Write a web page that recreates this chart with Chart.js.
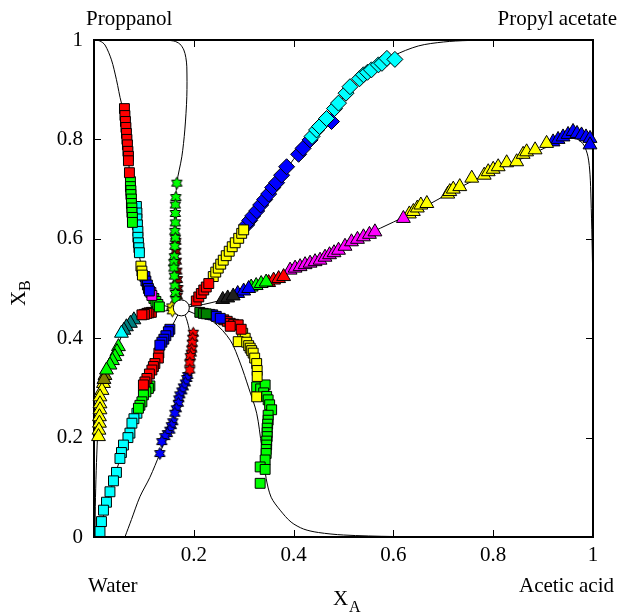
<!DOCTYPE html>
<html>
<head>
<meta charset="utf-8">
<script src="https://cdn.jsdelivr.net/npm/chart.js@4.4.1/dist/chart.umd.min.js"></script>
<style>
html,body{margin:0;padding:0;background:#fff;}
#wrap{width:617px;height:613px;position:relative;}
</style>
</head>
<body>
<div id="wrap"><canvas id="c" width="617" height="613"></canvas></div>
<script>
// ---------- tick labels ----------
const xTickLabels = ['', '0.2', '0.4', '0.6', '0.8', '1'];
const yTickLabels = ['0', '0.2', '0.4', '0.6', '0.8', '1'];
const tickValues = [0, 0.2, 0.4, 0.6, 0.8, 1];
const cornerLabels = ['Proppanol', 'Propyl acetate', 'Water', 'Acetic acid'];

// ---------- curves (x, y) ----------
const curveTopLeftStars = [[0.003,1.0],[0.05,1.0],[0.10,1.0],[0.139,1.0],[0.160,0.998],[0.172,0.992],[0.180,0.980],[0.184,0.965],[0.186,0.946],[0.186,0.886],[0.182,0.819],[0.176,0.765],[0.166,0.712],[0.163,0.65],[0.162,0.56],[0.165,0.50],[0.175,0.461]];
const curveTopLeftSquares = [[0.003,1.0],[0.012,0.998],[0.022,0.990],[0.035,0.960],[0.045,0.920],[0.055,0.873],[0.061,0.862],[0.066,0.80],[0.071,0.735],[0.075,0.68],[0.082,0.62],[0.090,0.57],[0.100,0.525],[0.112,0.495],[0.128,0.472],[0.150,0.463],[0.175,0.461]];
const curveTopRight = [[0.175,0.461],[0.205,0.475],[0.240,0.525],[0.300,0.618],[0.350,0.690],[0.400,0.760],[0.450,0.823],[0.500,0.885],[0.550,0.935],[0.600,0.968],[0.650,0.988],[0.700,0.996],[0.750,0.999],[0.850,1.0],[1.0,1.0]];
const curveRight = [[0.175,0.461],[0.220,0.468],[0.280,0.484],[0.350,0.514],[0.450,0.562],[0.550,0.610],[0.650,0.658],[0.750,0.712],[0.850,0.758],[0.920,0.790],[0.955,0.803],[0.970,0.800],[0.982,0.788],[0.990,0.765],[0.994,0.730],[0.996,0.680],[0.998,0.600],[1.0,0.5]];
const curveBottomRight = [[0.175,0.461],[0.200,0.450],[0.239,0.433],[0.273,0.396],[0.293,0.350],[0.310,0.300],[0.326,0.249],[0.336,0.182],[0.345,0.118],[0.355,0.080],[0.373,0.054],[0.395,0.030],[0.420,0.016],[0.450,0.009],[0.500,0.004],[0.600,0.001],[0.800,0.0],[1.0,0.0]];
const curveDownStars = [[0.175,0.461],[0.185,0.440],[0.192,0.410],[0.193,0.370],[0.188,0.325],[0.176,0.290],[0.162,0.249],[0.147,0.208],[0.132,0.168],[0.112,0.120],[0.092,0.081],[0.075,0.035],[0.062,0.0]];
const curveDownLeft = [[0.175,0.461],[0.162,0.435],[0.150,0.413],[0.135,0.385],[0.120,0.350],[0.105,0.315],[0.090,0.265],[0.078,0.230],[0.062,0.190],[0.050,0.150],[0.038,0.110],[0.025,0.065],[0.013,0.020],[0.008,0.0]];
const curveLeft = [[0.175,0.461],[0.150,0.456],[0.120,0.452],[0.095,0.446],[0.075,0.432],[0.060,0.415],[0.048,0.385],[0.035,0.350],[0.022,0.315],[0.012,0.270],[0.008,0.220],[0.005,0.150],[0.003,0.080],[0.002,0.0]];

// ---------- marker series (x, y) ----------
const sqRedUL = [[0.061,0.862],[0.062,0.848],[0.063,0.836],[0.064,0.824],[0.065,0.812],[0.066,0.800],[0.067,0.789],[0.068,0.776],[0.069,0.766],[0.069,0.757],[0.071,0.733]];
const sqGreenUL = [[0.073,0.715],[0.073,0.705],[0.074,0.697],[0.074,0.689],[0.075,0.680],[0.075,0.671],[0.076,0.662],[0.076,0.653],[0.077,0.643],[0.077,0.633]];
const sqCyanUL = [[0.085,0.665],[0.086,0.652],[0.086,0.640],[0.087,0.628],[0.088,0.615],[0.088,0.603],[0.089,0.592],[0.090,0.582],[0.091,0.572]];
const sqYellowUL = [[0.094,0.545],[0.096,0.535],[0.097,0.527]];
const sqBlueUL = [[0.102,0.524],[0.104,0.515],[0.107,0.507],[0.109,0.500],[0.111,0.495]];
const sqMagentaUL = [[0.114,0.492],[0.116,0.486]];
const sqGreen2UL = [[0.120,0.480],[0.124,0.474],[0.128,0.468],[0.131,0.463]];

const starGreenUp = [[0.166,0.712],[0.164,0.683],[0.163,0.668],[0.163,0.651],[0.163,0.632],[0.162,0.615],[0.163,0.601],[0.162,0.585],[0.161,0.564],[0.160,0.552],[0.160,0.541],[0.161,0.525],[0.162,0.505],[0.163,0.490],[0.164,0.477]];
const starDarkRedUp = [[0.164,0.595],[0.164,0.575],[0.165,0.555],[0.166,0.535],[0.167,0.518],[0.168,0.500],[0.167,0.485],[0.169,0.470]];
const starYellowUp = [[0.156,0.463],[0.157,0.455]];

const sqRedUR = [[0.205,0.475],[0.210,0.483],[0.215,0.490],[0.220,0.497],[0.225,0.503],[0.230,0.510]];
const sqYellowUR = [[0.239,0.524],[0.244,0.533],[0.249,0.541],[0.254,0.549],[0.259,0.557],[0.265,0.566],[0.271,0.575],[0.277,0.584],[0.283,0.592],[0.290,0.601],[0.296,0.611],[0.300,0.618]];
const diaBlueUR = [[0.306,0.628],[0.312,0.637],[0.318,0.646],[0.326,0.656],[0.334,0.668],[0.342,0.679],[0.350,0.690],[0.358,0.703],[0.366,0.713],[0.376,0.728],[0.386,0.745],[0.410,0.770],[0.419,0.782],[0.433,0.799],[0.476,0.836]];
const diaCyanUR = [[0.437,0.806],[0.446,0.819],[0.452,0.826],[0.466,0.842],[0.482,0.862],[0.490,0.873],[0.505,0.893],[0.513,0.906],[0.532,0.922],[0.540,0.930],[0.548,0.935],[0.556,0.940],[0.570,0.950],[0.577,0.953],[0.587,0.963],[0.603,0.961]];

const triBlackR = [[0.258,0.478],[0.268,0.481],[0.279,0.485]];
const triBlueR = [[0.288,0.490],[0.300,0.495],[0.310,0.500]];
const triGreenR = [[0.315,0.503],[0.325,0.506],[0.335,0.510],[0.345,0.513]];
const triRedR = [[0.350,0.512],[0.360,0.517],[0.370,0.520],[0.380,0.524]];
const triMagentaR = [[0.393,0.537],[0.403,0.541],[0.413,0.544],[0.423,0.548],[0.433,0.551],[0.443,0.554],[0.453,0.557],[0.463,0.563],[0.472,0.568],[0.481,0.572],[0.490,0.577],[0.503,0.585],[0.516,0.594],[0.528,0.599],[0.540,0.604],[0.552,0.609],[0.563,0.614],[0.620,0.641]];
const triYellowR = [[0.632,0.650],[0.640,0.655],[0.648,0.662],[0.655,0.668],[0.667,0.671],[0.709,0.690],[0.713,0.695],[0.720,0.700],[0.733,0.705],[0.757,0.722],[0.782,0.728],[0.790,0.735],[0.800,0.740],[0.810,0.745],[0.827,0.753],[0.847,0.755],[0.860,0.770],[0.867,0.775],[0.884,0.779],[0.907,0.792]];
const triBlueR2 = [[0.920,0.795],[0.930,0.800],[0.940,0.805],[0.950,0.810],[0.960,0.816],[0.968,0.812],[0.977,0.809],[0.986,0.805],[0.994,0.802],[0.994,0.789]];

const sqDkGreenLR = [[0.212,0.452],[0.219,0.450],[0.225,0.449]];
const sqBlueLR = [[0.232,0.448],[0.238,0.447],[0.245,0.444],[0.253,0.440]];
const sqRedLR = [[0.260,0.437],[0.267,0.434],[0.273,0.430],[0.280,0.428],[0.289,0.427],[0.273,0.424],[0.295,0.418]];
const sqYellowLR = [[0.298,0.410],[0.303,0.400],[0.289,0.393],[0.306,0.392],[0.310,0.385],[0.313,0.380],[0.316,0.375],[0.319,0.370],[0.322,0.360],[0.326,0.349],[0.327,0.335],[0.327,0.323],[0.326,0.282]];
const sqGreenLR = [[0.326,0.302],[0.334,0.298],[0.343,0.306],[0.340,0.290],[0.346,0.283],[0.349,0.276],[0.352,0.266],[0.356,0.256],[0.349,0.245],[0.349,0.235],[0.348,0.227],[0.347,0.219],[0.347,0.210],[0.347,0.202],[0.346,0.193],[0.346,0.185],[0.345,0.176],[0.345,0.168],[0.343,0.155],[0.333,0.141],[0.343,0.136],[0.333,0.108]];

const starRedDown = [[0.199,0.410],[0.198,0.400],[0.197,0.390],[0.196,0.378],[0.195,0.370],[0.193,0.363],[0.192,0.350],[0.192,0.336]];
const starBlueDown = [[0.188,0.325],[0.186,0.319],[0.183,0.310],[0.179,0.302],[0.176,0.294],[0.172,0.286],[0.170,0.278],[0.169,0.269],[0.165,0.258],[0.162,0.249],[0.158,0.232],[0.155,0.224],[0.152,0.215],[0.147,0.208],[0.142,0.202],[0.136,0.192],[0.132,0.168]];

const sqBlueLL = [[0.152,0.418],[0.149,0.413],[0.144,0.405],[0.140,0.398],[0.136,0.392],[0.132,0.386]];
const sqRedLL = [[0.130,0.370],[0.129,0.360],[0.122,0.349],[0.119,0.343],[0.116,0.336],[0.111,0.328],[0.106,0.319],[0.102,0.312],[0.099,0.306]];
const sqGreenLL = [[0.112,0.304],[0.109,0.299],[0.104,0.292],[0.099,0.286],[0.096,0.272],[0.092,0.265],[0.089,0.259]];
const sqCyanLL = [[0.086,0.249],[0.080,0.238],[0.076,0.229],[0.072,0.209],[0.068,0.200],[0.059,0.185],[0.055,0.170],[0.052,0.158],[0.045,0.130],[0.039,0.113],[0.032,0.091],[0.025,0.070],[0.019,0.054],[0.015,0.031],[0.012,0.011]];

const sqRedL = [[0.115,0.452],[0.110,0.451],[0.106,0.450],[0.101,0.448],[0.096,0.447]];
const triTealL = [[0.080,0.437],[0.073,0.430],[0.065,0.423],[0.060,0.416]];
const triCyanL = [[0.055,0.410]];
const triGreenL = [[0.049,0.383],[0.046,0.373],[0.042,0.363],[0.037,0.355],[0.032,0.346],[0.025,0.336]];
const triDkYellowL = [[0.022,0.325],[0.020,0.317]];
const triYellowL = [[0.019,0.309],[0.016,0.295],[0.012,0.282],[0.012,0.268],[0.012,0.256],[0.011,0.242],[0.011,0.229],[0.010,0.215],[0.009,0.202]];

const centerPoint = [[0.175,0.461]];

// ---------- helpers ----------
const toXY = a => a.map(p => ({x: p[0], y: p[1]}));

function makeStar(fill, r) {
  const s = Math.ceil(r * 2 + 3);
  const c = document.createElement('canvas');
  c.width = s; c.height = s;
  const g = c.getContext('2d');
  const cx = s / 2, cy = s / 2;
  g.beginPath();
  for (let i = 0; i < 12; i++) {
    const ang = -Math.PI / 2 + i * Math.PI / 6;
    const rr = i % 2 === 0 ? r : r * 0.577;
    const px = cx + rr * Math.cos(ang), py = cy + rr * Math.sin(ang);
    if (i === 0) g.moveTo(px, py); else g.lineTo(px, py);
  }
  g.closePath();
  g.fillStyle = fill; g.fill();
  g.strokeStyle = '#000'; g.lineWidth = 1; g.stroke();
  return c;
}

function curveDS(arr) {
  return {data: toXY(arr), showLine: true, borderColor: '#000', borderWidth: 1,
          pointRadius: 0, tension: 0.3, fill: false, order: 10};
}
function markDS(arr, style, color, radius) {
  return {data: toXY(arr), showLine: false, pointStyle: style, backgroundColor: color,
          borderColor: '#000', borderWidth: 1, pointRadius: radius, order: 5, clip: false};
}
function starDS(arr, color) {
  return {data: toXY(arr), showLine: false, pointStyle: makeStar(color, 6), order: 5, clip: false, pointRadius: 6};
}

const SQ = 7, TR = 8, DI = 8;

const datasets = [
  {data: toXY(centerPoint), showLine: false, pointStyle: 'circle', backgroundColor: '#fff',
   borderColor: '#000', borderWidth: 1, pointRadius: 8, order: 0, clip: false},

  markDS(sqRedUL, 'rect', '#ff0000', SQ),
  markDS(sqGreenUL, 'rect', '#00ff00', SQ),
  markDS(sqCyanUL, 'rect', '#00ffff', SQ),
  markDS(sqYellowUL, 'rect', '#ffff00', SQ),
  markDS(sqBlueUL, 'rect', '#0000ff', SQ),
  markDS(sqMagentaUL, 'rect', '#ff00ff', SQ),
  markDS(sqGreen2UL, 'rect', '#00ff00', SQ),

  starDS(starYellowUp, '#ffff00'),
  starDS(starGreenUp, '#00ff00'),
  starDS(starDarkRedUp, '#8b0000'),

  markDS(sqRedUR, 'rect', '#ff0000', SQ),
  markDS(sqYellowUR, 'rect', '#ffff00', SQ),
  markDS(diaCyanUR, 'rectRot', '#00ffff', DI),
  markDS(diaBlueUR, 'rectRot', '#0000ff', DI),

  markDS(triBlackR, 'triangle', '#202020', TR),
  markDS(triBlueR, 'triangle', '#0000ff', TR),
  markDS(triGreenR, 'triangle', '#00ff00', TR),
  markDS(triRedR, 'triangle', '#ff0000', TR),
  markDS(triMagentaR, 'triangle', '#ff00ff', TR),
  markDS(triYellowR, 'triangle', '#ffff00', TR),
  markDS(triBlueR2, 'triangle', '#0000ff', TR),

  markDS(sqDkGreenLR, 'rect', '#008000', SQ),
  markDS(sqBlueLR, 'rect', '#0000ff', SQ),
  markDS(sqRedLR, 'rect', '#ff0000', SQ),
  markDS(sqYellowLR, 'rect', '#ffff00', SQ),
  markDS(sqGreenLR, 'rect', '#00ff00', SQ),

  starDS(starRedDown, '#ff0000'),
  starDS(starBlueDown, '#0000ff'),

  markDS(sqBlueLL, 'rect', '#0000ff', SQ),
  markDS(sqRedLL, 'rect', '#ff0000', SQ),
  markDS(sqGreenLL, 'rect', '#00ff00', SQ),
  markDS(sqCyanLL, 'rect', '#00ffff', SQ),

  markDS(sqRedL, 'rect', '#ff0000', SQ),
  markDS(triCyanL, 'triangle', '#00ffff', TR),
  markDS(triTealL, 'triangle', '#008080', TR),
  markDS(triGreenL, 'triangle', '#00ff00', TR),
  markDS(triDkYellowL, 'triangle', '#808000', TR),
  markDS(triYellowL, 'triangle', '#ffff00', TR),

  curveDS(curveTopLeftStars),
  curveDS(curveTopLeftSquares),
  curveDS(curveTopRight),
  curveDS(curveRight),
  curveDS(curveBottomRight),
  curveDS(curveDownStars),
  curveDS(curveDownLeft),
  curveDS(curveLeft)
];

const FONT = '"Liberation Serif", "Times New Roman", serif';

const decor = {
  id: 'decor',
  beforeDatasetsDraw(chart) {
    const {ctx, chartArea: a, scales: {x, y}} = chart;
    ctx.save();
    ctx.strokeStyle = '#000';
    ctx.lineWidth = 1;
    ctx.beginPath();
    tickValues.forEach(v => {
      const px = Math.round(x.getPixelForValue(v)) + 0.5;
      ctx.moveTo(px, a.bottom); ctx.lineTo(px, a.bottom - 7);
      ctx.moveTo(px, a.top); ctx.lineTo(px, a.top + 7);
      const py = Math.round(y.getPixelForValue(v)) + 0.5;
      ctx.moveTo(a.left, py); ctx.lineTo(a.left + 7, py);
      ctx.moveTo(a.right, py); ctx.lineTo(a.right - 7, py);
    });
    ctx.stroke();
    ctx.lineWidth = 2;
    ctx.strokeRect(a.left, a.top, a.right - a.left, a.bottom - a.top);
    ctx.restore();
  },
  afterDraw(chart) {
    const {ctx} = chart;
    ctx.save();
    ctx.fillStyle = '#000';
    ctx.font = '21px ' + FONT;
    ctx.textBaseline = 'alphabetic';
    ctx.textAlign = 'left';
    ctx.fillText(cornerLabels[0], 86, 25);
    ctx.textAlign = 'right';
    ctx.fillText(cornerLabels[1], 617, 25);
    ctx.textAlign = 'left';
    ctx.fillText(cornerLabels[2], 88, 592);
    ctx.textAlign = 'right';
    ctx.fillText(cornerLabels[3], 614, 592);
    // x axis title X_A
    ctx.textAlign = 'left';
    ctx.font = '21px ' + FONT;
    ctx.fillText('X', 333, 605);
    ctx.font = '16px ' + FONT;
    ctx.fillText('A', 349, 612);
    // y axis title X_B (rotated)
    ctx.translate(25, 306);
    ctx.rotate(-Math.PI / 2);
    ctx.font = '21px ' + FONT;
    ctx.fillText('X', 0, 0);
    ctx.font = '16px ' + FONT;
    ctx.fillText('B', 15, 5);
    ctx.restore();
  }
};

new Chart(document.getElementById('c'), {
  type: 'scatter',
  data: {datasets},
  options: {
    responsive: false,
    animation: false,
    devicePixelRatio: 1,
    layout: {padding: {top: 40, right: 24, left: 0, bottom: 0}},
    plugins: {legend: {display: false}, tooltip: {enabled: false}},
    scales: {
      x: {
        type: 'linear', min: 0, max: 1,
        grid: {display: false, drawTicks: false}, border: {display: false},
        ticks: {stepSize: 0.2, padding: 6, color: '#000', font: {family: FONT, size: 21},
                callback: (v, i) => xTickLabels[i], maxRotation: 0, autoSkip: false},
        afterFit: s => { s.height = 76; }
      },
      y: {
        type: 'linear', min: 0, max: 1,
        grid: {display: false, drawTicks: false}, border: {display: false},
        ticks: {stepSize: 0.2, padding: 11, color: '#000', font: {family: FONT, size: 21},
                callback: (v, i) => yTickLabels[i], autoSkip: false},
        afterFit: s => { s.width = 94; }
      }
    }
  },
  plugins: [decor]
});
</script>
</body>
</html>
